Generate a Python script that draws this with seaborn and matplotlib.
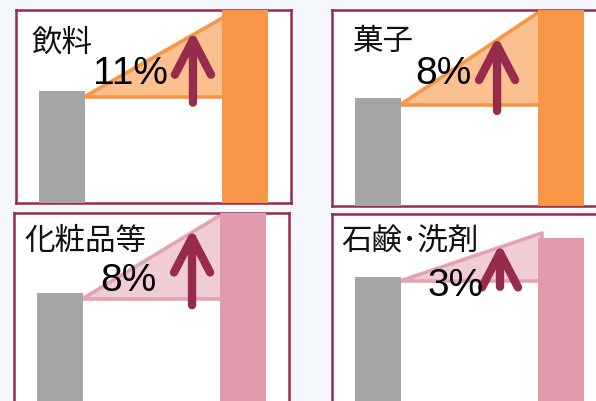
import numpy as np
import pandas as pd
import seaborn as sns
import matplotlib.pyplot as plt
from matplotlib.patches import Polygon

# data (bar heights as % of panel box height)
categories = ["飲料", "菓子", "化粧品等", "石鹸･洗剤"]
growth = ["11%", "8%", "8%", "3%"]
before = [58, 55, 59, 67.5]
after = [100, 100, 100, 87.5]
wedge_from = [55, 51.5, 55.5, 65.5]
wedge_to = [97, 100, 100, 90]

# styles / layout
bar_colors = ["#f79646", "#f79646", "#e09aab", "#e09aab"]
wedge_fill = ["#fac090", "#fac090", "#f0ccd5", "#f0ccd5"]
wedge_edge = ["#f79646", "#f79646", "#e3a3b3", "#e3a3b3"]
gray = "#a5a5a5"
maroon = "#972b4b"
# panel boxes in pixels: left, top, height
boxes = [(16, 11, 193), (332, 11, 196), (14, 214, 194), (332, 215, 194)]
label_x = [-0.165, -0.138, -0.192, -0.197]
label_y = [83.4, 84.2, 86, 86.6]
pct_x = [0.373, 0.357, 0.375, 0.428]
pct_y = [67.5, 68, 65.5, 63.4]
arrow_x = [0.717, 0.652, 0.723, 0.668]

sns.set_style("white")
plt.rcParams['font.family'] = ['Noto Sans CJK JP', 'DejaVu Sans']

W, H = 596, 402
fig = plt.figure(figsize=(W / 100, H / 100), dpi=100, facecolor="#f4f8fc")

for i, (left, top, h) in enumerate(boxes):
    w = 1.5 * 183
    ax = fig.add_axes([left / W, (H - top - h) / H, w / W, h / H])
    ax.set_facecolor("white")

    df = pd.DataFrame({"when": ["before", "after"], "value": [before[i], after[i]]})
    sns.barplot(data=df, x="when", y="value", hue="when",
                palette=[gray, bar_colors[i]], saturation=1, width=0.25,
                legend=False, ax=ax, zorder=3, linewidth=0)

    # growth wedge from top of gray bar up to the coloured bar
    x0, x1 = 0.12, 0.90
    tri = Polygon([(x0, wedge_from[i]), (x1, wedge_from[i]), (x1, wedge_to[i])],
                  closed=True, facecolor=wedge_fill[i], edgecolor=wedge_edge[i],
                  lw=2.6, joinstyle="round", zorder=2)
    ax.add_patch(tri)

    # arrow from wedge base up to hypotenuse
    ax_ = arrow_x[i]
    hyp = wedge_from[i] + (wedge_to[i] - wedge_from[i]) * (ax_ - x0) / (x1 - x0)
    ax.annotate("", xy=(ax_, hyp + 2), xytext=(ax_, wedge_from[i] - 3),
                arrowprops=dict(arrowstyle="->,head_length=1.25,head_width=0.65",
                                lw=6, color=maroon, capstyle="round",
                                joinstyle="round", mutation_scale=20,
                                shrinkA=0, shrinkB=0),
                zorder=4)

    ax.text(label_x[i], label_y[i], categories[i], fontsize=22,
            ha="left", va="center", color="#111111", zorder=5)
    ax.text(pct_x[i], pct_y[i], growth[i], fontsize=28,
            family=["Liberation Sans", "DejaVu Sans"],
            ha="center", va="center", color="black", zorder=5)

    ax.set_xlim(-0.25, 1.25)
    ax.set_ylim(0, 100)
    ax.set_xticks([])
    ax.set_yticks([])
    ax.set_xlabel("")
    ax.set_ylabel("")
    for s in ax.spines.values():
        s.set_color(maroon)
        s.set_linewidth(1.8)
        s.set_zorder(2.5)

fig.savefig("out.png", dpi=100, facecolor=fig.get_facecolor())
